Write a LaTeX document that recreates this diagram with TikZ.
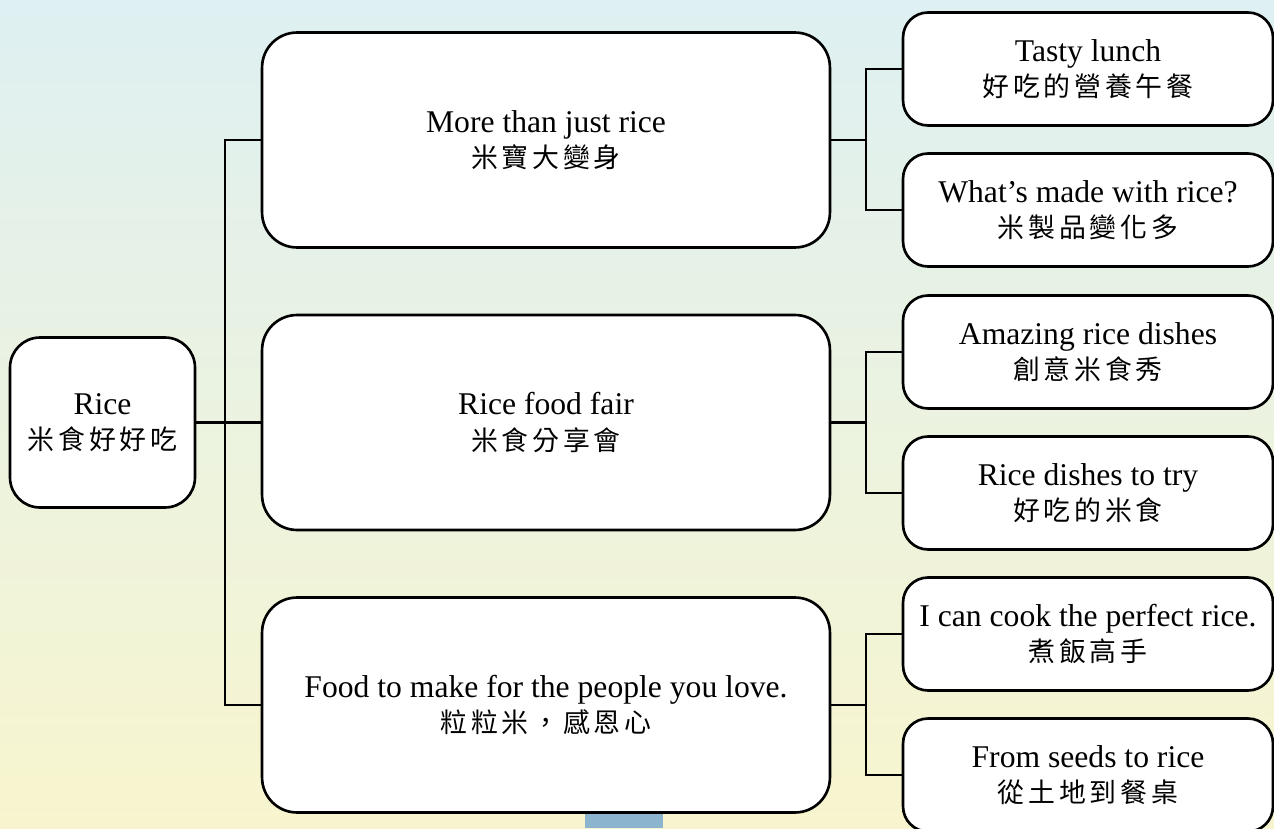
\documentclass[tikz,border=0pt]{standalone}
\usepackage{fontspec}
\setmainfont{Liberation Serif}
\newfontfamily\cjk[Scale=0.85,LetterSpace=14]{Noto Sans CJK TC}
\definecolor{skytop}{HTML}{DEF0F2}
\definecolor{skymid}{HTML}{EBF3E3}
\definecolor{fieldlow}{HTML}{F8F5CE}
\definecolor{pond}{HTML}{8DB4CF}

\begin{document}
\begin{tikzpicture}[x=0.02cm, y=-0.02cm, line width=1.5pt,
    box/.style={draw=black, fill=white, align=center, font=\fontsize{18}{20}\selectfont},
    rootbox/.style={box, minimum width=3.7cm, minimum height=3.4cm, rounded corners=0.6cm},
    topicbox/.style={box, minimum width=11.36cm, minimum height=4.3cm, rounded corners=0.7cm},
    leafbox/.style={box, minimum width=7.4cm, minimum height=2.26cm, rounded corners=0.5cm}]
    \useasboundingbox (0,0) rectangle (1274,828);
    \clip (0,0) rectangle (1274,828);
    % background
    \shade[top color=skytop, middle color=skymid, bottom color=fieldlow] (0,0) rectangle (1274,828);
    \fill[pond] (585,814) rectangle (663,828);

    \node[rootbox] (rice) at (102.5,422.5) {Rice\\{\cjk 米食好好吃}};

    \node[topicbox] (t1) at (546,140) {More than just rice\\{\cjk 米寶大變身}};
    \node[topicbox] (t2) at (546,422.5) {Rice food fair\\{\cjk 米食分享會}};
    \node[topicbox] (t3) at (546,705) {Food to make for the people you love.\\{\cjk 粒粒米，感恩心}};

    \node[leafbox] (l1) at (1088,69) {Tasty lunch\\{\cjk 好吃的營養午餐}};
    \node[leafbox] (l2) at (1088,210) {What’s made with rice?\\{\cjk 米製品變化多}};
    \node[leafbox] (l3) at (1088,352) {Amazing rice dishes\\{\cjk 創意米食秀}};
    \node[leafbox] (l4) at (1088,493) {Rice dishes to try\\{\cjk 好吃的米食}};
    \node[leafbox] (l5) at (1088,634) {I can cook the perfect rice.\\{\cjk 煮飯高手}};
    \node[leafbox] (l6) at (1088,775) {From seeds to rice\\{\cjk 從土地到餐桌}};

    \coordinate (trunk) at (225,422.5);
    \coordinate (jt1) at (866,140);
    \coordinate (jt2) at (866,422.5);
    \coordinate (jt3) at (866,705);

    \draw (rice.east) -- (t2.west);
    \draw (t1.west) -| (trunk);
    \draw (t3.west) -| (trunk);
    \foreach \t/\a/\b in {t1/l1/l2, t2/l3/l4, t3/l5/l6} {
        \draw (\t.east) -- (j\t);
        \draw (\a.west) -| (j\t);
        \draw (\b.west) -| (j\t);
    }
\end{tikzpicture}
\end{document}
